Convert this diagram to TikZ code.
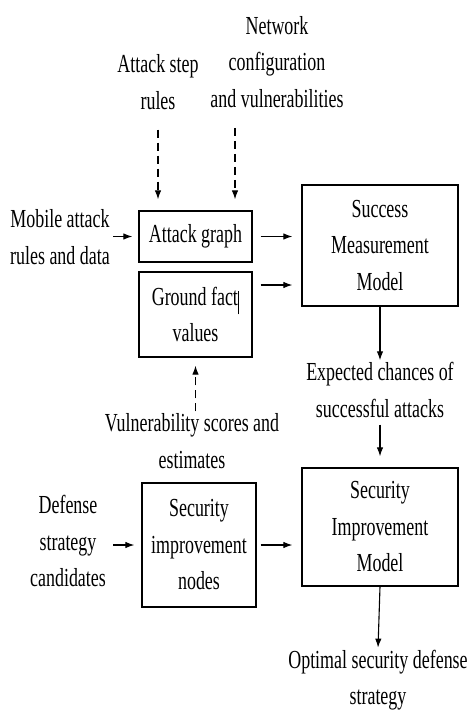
\documentclass[tikz,border=0pt]{standalone}
\usepackage{fontspec}
\setmainfont{Liberation Serif}[FakeStretch=0.69]
\usepackage{tikz}
\usetikzlibrary{arrows.meta}

\begin{document}
\begin{tikzpicture}[x=1pt,y=-1pt]
\useasboundingbox (0,0) rectangle (471,716);
\tikzset{vertex/.style = {shape=rectangle,draw,line width=1.3pt,align=center,inner sep=0pt,font=\fontsize{26}{36.5}\selectfont}}
\tikzset{txt/.style = {align=center,inner sep=1pt,font=\fontsize{26}{36.5}\selectfont}}
% vertices
\node[vertex,minimum width=113pt,minimum height=51pt] (ag) at (195.5,236.5) {Attack graph};
\node[vertex,minimum width=113pt,minimum height=85pt] (gf) at (195.5,314.5) {Ground fact\rule[-9pt]{1.2pt}{23pt}\\values};
\node[vertex,minimum width=156pt,minimum height=121pt] (smm) at (380,245.5) {Success\\Measurement\\Model};
\node[vertex,minimum width=114pt,minimum height=124pt] (sin) at (199,545) {Security\\improvement\\nodes};
\node[vertex,minimum width=156pt,minimum height=118pt] (sim) at (380,527) {Security\\Improvement\\Model};
% texts
\node[txt] (asr) at (158,82) {Attack step\\rules};
\node[txt] (net) at (277,62) {Network\\configuration\\and vulnerabilities};
\node[txt] (mob) at (60,237) {Mobile attack\\rules and data};
\node[txt] (vul) at (192,441) {Vulnerability scores and\\estimates};
\node[txt] (exp) at (380,390) {Expected chances of\\successful attacks};
\node[txt] (def) at (68,541) {Defense\\strategy\\candidates};
\node[txt] (opt) at (378,680) {Optimal security defense\\strategy};
%edges
\tikzset{edge/.style = {->, line width=1.1pt, > = {Latex[length=9pt,width=6.5pt]}}}
\tikzset{dashedge/.style = {edge, dash pattern=on 8pt off 5pt}}
\draw[dashedge,shorten <=19pt,shorten >=11pt] (asr.south) -- (asr.south |- ag.north);
\draw[dashedge,shorten <=19pt,shorten >=11pt] ([xshift=-42pt]net.south) -- ([xshift=-42pt]net.south |- ag.north);
\draw[edge,shorten <=2pt,shorten >=6pt] (mob.east |- ag.west) -- (ag.west);
\draw[edge,shorten <=8pt,shorten >=9pt] (ag.east) -- (ag.east -| smm.west);
\draw[edge,shorten <=8pt,shorten >=9pt] ([yshift=29.5pt]gf.east) -- ([yshift=29.5pt]gf.east -| smm.west);
\draw[dashedge,shorten <=1pt,shorten >=8pt] (gf.south |- vul.north) -- (gf.south);
\draw[edge,shorten >=1pt] (smm.south) -- (exp.north);
\draw[edge,shorten <=6pt,shorten >=11pt] (exp.south) -- (sim.north);
\draw[edge,shorten <=6pt,shorten >=7pt] (def.east |- sin.west) -- (sin.west);
\draw[edge,shorten <=4pt,shorten >=9pt] (sin.east) -- (sin.east -| sim.west);
\draw[edge,shorten >=1pt] (sim.south) -- (opt.north);

\end{tikzpicture}
\end{document}
